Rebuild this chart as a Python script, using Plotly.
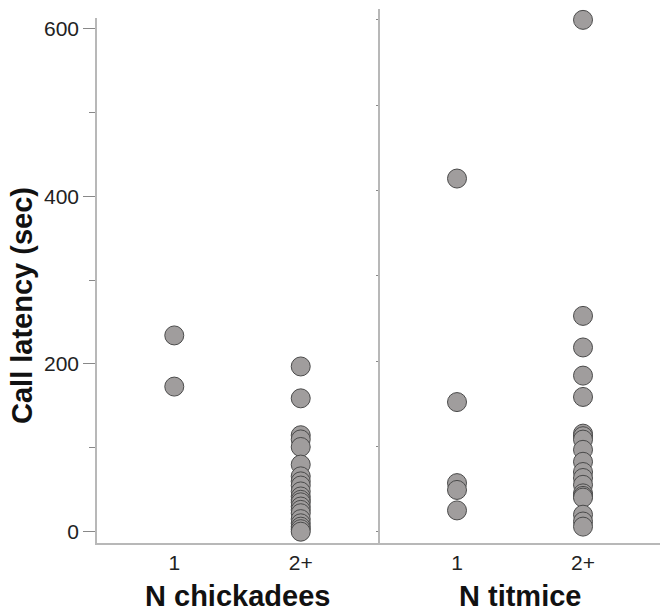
import plotly.graph_objects as go

categories = ["1", "2+"]

chick_one = [234, 173]
chick_two = [197, 159, 115, 110, 101, 80, 66, 60, 55, 48, 42, 38, 35, 30, 26, 22, 15, 10, 6, 3, 0]
tit_one = [414, 152, 57, 49, 25]
tit_two = [600, 253, 216, 183, 158, 115, 112, 108, 96, 82, 70, 63, 55, 45, 42, 40, 20, 12, 6]

y_ticks = [0, 200, 400, 600]

FONT = "Arial, Liberation Sans, sans-serif"
marker = dict(size=19, color="#a09d9d", line=dict(color="#4a4a4a", width=1))

W, H, L, R, T, B = 668, 613, 97, 8, 0, 70
PW, PH = W - L - R, H - T - B


def px(x):
    return (x - L) / PW


def py(y):
    return (H - B - y) / PH


fig = go.Figure()
fig.add_trace(go.Scatter(x=[categories[0]] * len(chick_one) + [categories[1]] * len(chick_two),
                         y=chick_one + chick_two, mode="markers", marker=marker,
                         xaxis="x", yaxis="y", showlegend=False))
fig.add_trace(go.Scatter(x=[categories[0]] * len(tit_one) + [categories[1]] * len(tit_two),
                         y=tit_one + tit_two, mode="markers", marker=marker,
                         xaxis="x2", yaxis="y2", showlegend=False))

axcol = "#b8b8b8"
xcommon = dict(type="category", categoryorder="array", categoryarray=categories,
               range=[-0.611, 1.611], showline=True, linecolor=axcol, linewidth=1.5,
               ticks="", showgrid=False, zeroline=False,
               tickfont=dict(family=FONT, size=21, color="#222"))

title_font = dict(family=FONT, size=29, color="#111")

fig.update_layout(
    width=W, height=H,
    margin=dict(l=L, r=R, t=T, b=B),
    plot_bgcolor="white", paper_bgcolor="white",
    xaxis=dict(domain=[0, 0.4991], anchor="y", **xcommon),
    xaxis2=dict(domain=[0.5027, 1], anchor="y2", **xcommon),
    yaxis=dict(domain=[0, 0.9676], anchor="x", range=[-13.5, 613],
               tickvals=y_ticks, ticks="outside", ticklen=12, tickcolor="#888",
               tickwidth=1, showline=True, linecolor=axcol, linewidth=1.5,
               showgrid=False, zeroline=False,
               minor=dict(dtick=100, tick0=0, ticks="outside", ticklen=6, tickcolor="#888"),
               tickfont=dict(family=FONT, size=21, color="#222")),
    yaxis2=dict(domain=[0, 0.9829], anchor="x2", range=[-13.2, 612.4],
                dtick=100, tick0=0, ticks="outside", ticklen=2, tickcolor="#888",
                showticklabels=False, showline=True, linecolor=axcol, linewidth=1.5,
                showgrid=False, zeroline=False),
    annotations=[
        dict(text="<b>N chickadees</b>", x=px(237.5), y=py(596), xref="paper", yref="paper",
             xanchor="center", yanchor="middle", showarrow=False, font=title_font),
        dict(text="<b>N titmice</b>", x=px(520), y=py(596), xref="paper", yref="paper",
             xanchor="center", yanchor="middle", showarrow=False, font=title_font),
        dict(text="<b>Call latency (sec)</b>", x=px(22), y=py(306), xref="paper", yref="paper",
             xanchor="center", yanchor="middle", showarrow=False, textangle=-90,
             font=title_font),
    ],
)

fig.write_html("out.html")
